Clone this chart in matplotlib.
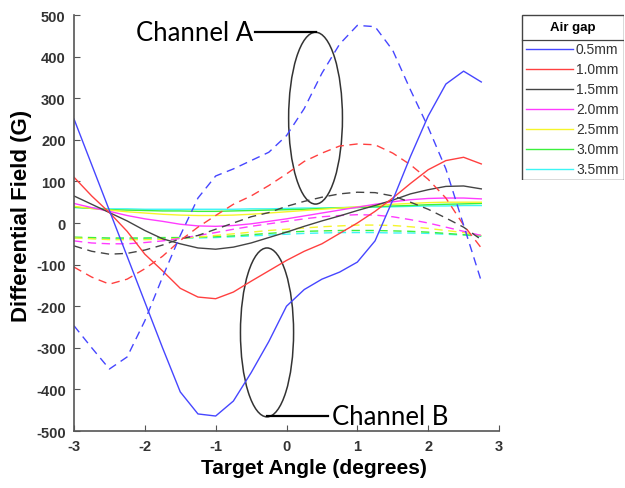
import numpy as np
import matplotlib

matplotlib.use("Agg")
import matplotlib.pyplot as plt
from matplotlib.patches import Ellipse, Rectangle
from matplotlib.lines import Line2D

plt.rcParams["axes.unicode_minus"] = False

# target angle sweep, 0.25 deg steps
angle = np.arange(-3.0, 2.76, 0.25)

gaps = ["0.5mm", "1.0mm", "1.5mm", "2.0mm", "2.5mm", "3.0mm", "3.5mm"]
colors = ["#4646ff", "#ff4040", "#444444", "#ff3cff", "#f5f52a", "#3cf03c", "#3cf5f5"]

# channel B (solid)
b_05 = [250, 140, 30, -80, -190, -300, -406, -459, -464, -428, -360, -285,
        -200, -160, -135, -118, -94, -43, 55, 160, 257, 334, 365, 339]
b_10 = [110, 65, 25, -20, -75, -115, -157, -178, -182, -166, -140, -115,
        -90, -68, -50, -25, 0, 28, 60, 95, 128, 150, 158, 142]
b_15 = [65, 45, 25, 5, -18, -38, -50, -60, -63, -58, -48, -35,
        -22, -8, 5, 17, 30, 42, 55, 70, 80, 88, 89, 82]
b_20 = [47, 37, 28, 18, 10, 4, -3, -7, -8, -6, -2, 4,
        10, 17, 24, 31, 38, 45, 51, 56, 59, 60, 60, 58]
b_25 = [40, 35, 31, 27, 24, 21, 19, 18, 18, 19, 21, 24,
        27, 30, 33, 36, 39, 42, 45, 47, 49, 50, 50, 50]
b_30 = [38, 35, 32, 31, 30, 29, 29, 28, 28, 29, 30, 31,
        32, 33, 35, 36, 37, 39, 41, 42, 44, 45, 46, 47]
b_35 = [37, 36, 34, 34, 33, 33, 33, 33, 33, 33, 34, 34,
        35, 36, 36, 37, 38, 38, 39, 40, 41, 41, 42, 42]

# channel A (dashed)
a_05 = [-247, -300, -351, -322, -235, -130, -30, 60, 113, 130, 150, 170,
        210, 275, 360, 430, 475, 472, 415, 320, 230, 130, -5, -140]
a_10 = [-106, -130, -147, -135, -110, -80, -42, -10, 18, 45, 65, 90,
        118, 148, 168, 185, 190, 188, 168, 140, 105, 60, -5, -60]
a_15 = [-55, -68, -75, -73, -65, -53, -38, -30, -15, 0, 15, 25,
        40, 52, 62, 70, 74, 73, 65, 50, 33, 12, -10, -40]
a_20 = [-43, -48, -50, -50, -47, -43, -37, -30, -23, -15, -8, -2,
        4, 10, 15, 18, 20, 19, 15, 8, 0, -10, -20, -30]
a_25 = [-36, -38, -40, -40, -40, -39, -37, -34, -30, -26, -22, -18,
        -15, -12, -9, -7, -5, -5, -6, -9, -13, -18, -23, -30]
a_30 = [-34, -35, -36, -36, -36, -35, -35, -34, -33, -31, -28, -25,
        -22, -20, -19, -18, -18, -18, -19, -20, -22, -25, -28, -31]
a_35 = [-36, -37, -38, -38, -38, -37, -37, -36, -35, -33, -31, -29,
        -27, -25, -24, -23, -23, -23, -24, -24, -25, -27, -29, -32]

chan_b = [b_05, b_10, b_15, b_20, b_25, b_30, b_35]
chan_a = [a_05, a_10, a_15, a_20, a_25, a_30, a_35]

TICK_FONT = "Liberation Sans"
NOTE_FONT = "Lato"
GREY = "#555555"

fig = plt.figure(figsize=(6.25, 4.89), dpi=100)
ax = fig.add_axes([74 / 625, 1 - 432 / 489, 425 / 625, 416 / 489])

# draw from thick-gap to thin so the big swings sit on top
for i in reversed(range(len(gaps))):
    ax.plot(angle, chan_b[i], color=colors[i], lw=1.0)
    ax.plot(angle, chan_a[i], color=colors[i], lw=1.0, dashes=(6, 4))

ax.set_xlim(-3, 3)
ax.set_ylim(-500, 500)
ax.set_xticks(np.arange(-3, 4, 1))
ax.set_yticks(np.arange(-500, 501, 100))
for s in ("top", "right"):
    ax.spines[s].set_visible(False)
for s in ("left", "bottom"):
    ax.spines[s].set_color(GREY)
    ax.spines[s].set_linewidth(1.2)
ax.tick_params(direction="in", length=4, color=GREY, labelsize=10.5,
               labelcolor="#333333", pad=6)
for lab in ax.get_xticklabels() + ax.get_yticklabels():
    lab.set_fontfamily(TICK_FONT)
    lab.set_fontweight("bold")

ax.set_xlabel("Target Angle (degrees)", fontsize=15, fontweight="bold",
              fontfamily=TICK_FONT)
ax.xaxis.set_label_coords(0.565, -0.065)
ax.set_ylabel("Differential Field (G)", fontsize=16, fontweight="bold",
              fontfamily=TICK_FONT)
ax.yaxis.set_label_coords(-0.098, 0.52)

# channel call-outs
ax.add_patch(Ellipse((0.41, 252), 0.76, 413, fill=False, ec="#333333", lw=1.1))
ax.add_patch(Ellipse((-0.275, -263), 0.75, 406, fill=False, ec="#333333", lw=1.1))
ax.plot([-0.45, 0.41], [458, 458], color="black", lw=1.6, clip_on=False)
ax.plot([-0.28, 0.58], [-465, -465], color="black", lw=1.6, clip_on=False)
ax.text(-0.47, 458, "Channel A", ha="right", va="center", fontsize=18.5,
        fontfamily=NOTE_FONT)
ax.text(0.64, -465, "Channel B", ha="left", va="center", fontsize=18.5,
        fontfamily=NOTE_FONT)

# legend box with titled header
lax = fig.add_axes([521 / 625, 1 - 181 / 489, 103 / 625, 166 / 489])
lax.set_xlim(0, 103)
lax.set_ylim(181, 15)
lax.axis("off")
lax.add_patch(Rectangle((1, 15.5), 101.5, 165, fill=False, ec="#444444", lw=1.0))
lax.plot([1, 102.5], [41, 41], color="#444444", lw=0.9)
lax.text(52, 28, "Air gap", ha="center", va="center", fontsize=9.5,
         fontweight="bold", fontfamily=TICK_FONT)
for k, (g, c) in enumerate(zip(gaps, colors)):
    y = 50 + k * 20
    lax.add_line(Line2D([5, 52], [y, y], color=c, lw=1.0))
    lax.text(55, y, g, ha="left", va="center", fontsize=10,
             fontfamily=TICK_FONT, color="#333333")

fig.savefig("out.png", dpi=100)
